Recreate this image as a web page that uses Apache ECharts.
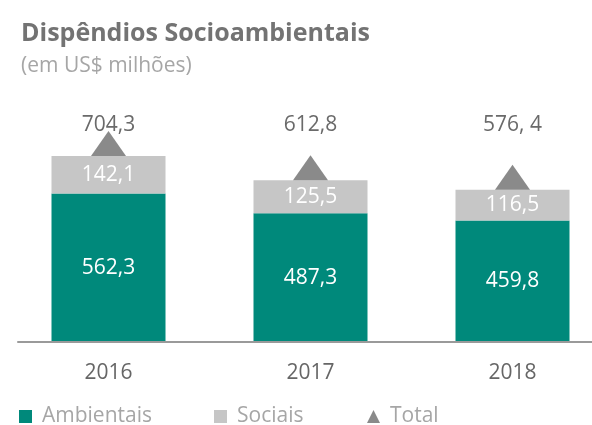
<!DOCTYPE html>
<html><head><meta charset="utf-8">
<script src="https://cdn.jsdelivr.net/npm/echarts@6/dist/echarts.min.js"></script>
<style>html,body{margin:0;padding:0;background:#fff}#c{width:592px;height:425px}</style>
</head><body><div id="c"></div>
<script>
const categories = ['2016', '2017', '2018'];
const ambientais = [562.3, 487.3, 459.8];
const sociais = [142.1, 125.5, 116.5];
const totals = [704.3, 612.8, 576.4];
const totalLabels = ['704,3', '612,8', '576, 4'];

const fmt = v => String(v).replace('.', ',');
const FONT = '"Open Sans", "Noto Sans", sans-serif';
const legendBase = {
  top: 406, padding: 0, itemWidth: 13, itemHeight: 13,
  textStyle: {fontFamily: FONT, fontSize: 21, color: '#a6a6a6', padding: [0, 0, 0, 5]}
};
const chart = echarts.init(document.getElementById('c'), null, {renderer: 'canvas'});
chart.setOption({
  animation: false,
  backgroundColor: '#fff',
  title: [
    {text: 'Dispêndios Socioambientais', left: 21, top: 21, padding: 0,
     textStyle: {fontFamily: FONT, fontSize: 25, fontWeight: 'bold', color: '#737373'}},
    {text: '(em US$ milhões)', left: 21, top: 56, padding: 0,
     textStyle: {fontFamily: FONT, fontSize: 21, fontWeight: 'normal', color: '#a6a6a6'}}
  ],
  legend: [
    Object.assign({}, legendBase, {left: 19, data: [{name: 'Ambientais', icon: 'rect'}]}),
    Object.assign({}, legendBase, {left: 214, data: [{name: 'Sociais', icon: 'rect'}]}),
    Object.assign({}, legendBase, {left: 367, data: [{name: 'Total', icon: 'triangle'}]})
  ],
  grid: [
    {left: 7.5, width: 606, top: 136, bottom: 83, outerBoundsMode: 'none'},
    {left: 18, right: 0, top: 136, bottom: 83, outerBoundsMode: 'none'}
  ],
  xAxis: [
    {type: 'category', gridIndex: 0, data: categories, position: 'bottom',
     axisLine: {show: false}, axisTick: {show: false},
     axisLabel: {margin: 21, fontFamily: FONT, fontSize: 21, color: '#666'}},
    {type: 'category', gridIndex: 0, data: totalLabels, position: 'top',
     axisLine: {show: false}, axisTick: {show: false},
     axisLabel: {margin: 0, fontFamily: FONT, fontSize: 21, color: '#6a6a6a'}},
    {type: 'category', gridIndex: 1, data: [''], position: 'bottom',
     axisLine: {show: true, lineStyle: {color: '#9a9a9a', width: 2}},
     axisTick: {show: false}, axisLabel: {show: false}, z: 10}
  ],
  yAxis: [
    {type: 'value', gridIndex: 0, min: 0, max: 780, show: false},
    {type: 'value', gridIndex: 1, min: 0, max: 780, show: false}
  ],
  series: [
    {name: 'Ambientais', type: 'bar', stack: 's', barWidth: 114, data: ambientais,
     itemStyle: {color: '#00897b'},
     label: {show: true, position: 'inside', formatter: p => fmt(p.value),
             fontFamily: FONT, fontSize: 21, color: '#fff'}},
    {name: 'Sociais', type: 'bar', stack: 's', barWidth: 114, data: sociais,
     itemStyle: {color: '#c6c6c6'},
     label: {show: true, position: 'inside', formatter: p => fmt(p.value),
             fontFamily: FONT, fontSize: 21, color: '#fff'}},
    {name: 'Total', type: 'scatter', data: totals, symbol: 'triangle',
     symbolSize: [35, 25], symbolOffset: [0, '-50%'], z: 5,
     itemStyle: {color: '#6d6d6d'}}
  ]
});
</script></body></html>
